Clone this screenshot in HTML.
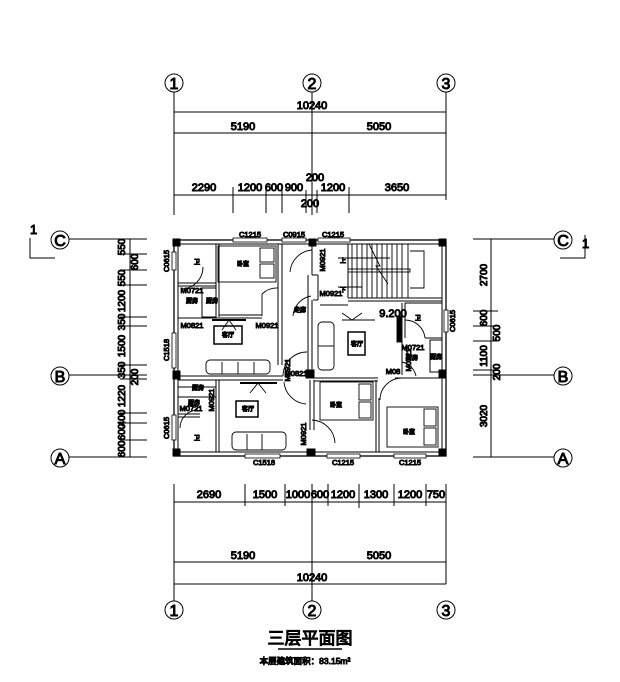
<!DOCTYPE html>
<html><head><meta charset="utf-8"><style>
html,body{margin:0;padding:0;background:#fff}
svg{display:block}
text{font-family:"Liberation Sans","Noto Sans CJK SC",sans-serif;fill:#000}
</style></head><body>
<svg width="620" height="682" viewBox="0 0 620 682" xmlns="http://www.w3.org/2000/svg">
<g stroke="#000" stroke-width="1" fill="none">
<circle cx="174" cy="83" r="9"/><circle cx="312" cy="83" r="9"/><circle cx="446" cy="83" r="9"/>
<line x1="174" y1="92" x2="174" y2="215"/><line x1="312" y1="92" x2="312" y2="215"/><line x1="446" y1="92" x2="446" y2="200"/>
<line x1="174" y1="112" x2="446" y2="112"/><line x1="174" y1="133" x2="446" y2="133"/><line x1="174" y1="195" x2="446" y2="195"/>
<line x1="233" y1="187" x2="233" y2="213"/><line x1="266" y1="190" x2="266" y2="213"/><line x1="282" y1="190" x2="282" y2="213"/>
<line x1="306" y1="190" x2="306" y2="213"/><line x1="317" y1="190" x2="317" y2="213"/><line x1="349" y1="187" x2="349" y2="213"/>
<circle cx="174" cy="610" r="9"/><circle cx="312" cy="610" r="9"/><circle cx="446" cy="610" r="9"/>
<line x1="174" y1="484" x2="174" y2="601"/><line x1="312" y1="484" x2="312" y2="601"/><line x1="446" y1="484" x2="446" y2="584"/>
<line x1="174" y1="502" x2="446" y2="502"/><line x1="174" y1="562" x2="446" y2="562"/><line x1="174" y1="584" x2="446" y2="584"/>
<line x1="245" y1="484" x2="245" y2="506"/><line x1="285" y1="484" x2="285" y2="506"/><line x1="328" y1="484" x2="328" y2="506"/>
<line x1="359" y1="484" x2="359" y2="508"/><line x1="394" y1="484" x2="394" y2="506"/><line x1="426" y1="484" x2="426" y2="506"/>
<circle cx="60" cy="240" r="9"/><circle cx="60" cy="376" r="9"/><circle cx="60" cy="458" r="9"/>
<line x1="69" y1="239" x2="147" y2="239"/><line x1="69" y1="375" x2="147" y2="375"/><line x1="69" y1="457" x2="147" y2="457"/>
<line x1="130" y1="239" x2="130" y2="457"/>
<line x1="120" y1="254" x2="147" y2="254"/><line x1="120" y1="270" x2="147" y2="270"/><line x1="120" y1="285" x2="147" y2="285"/>
<line x1="120" y1="317" x2="147" y2="317"/><line x1="120" y1="326" x2="147" y2="326"/><line x1="120" y1="365" x2="147" y2="365"/>
<line x1="120" y1="379" x2="147" y2="379"/><line x1="120" y1="413" x2="147" y2="413"/><line x1="120" y1="423" x2="147" y2="423"/>
<line x1="120" y1="440" x2="147" y2="440"/>
<polyline points="30,238 30,258 55,258"/>
<circle cx="563" cy="240" r="9"/><circle cx="563" cy="376" r="9"/><circle cx="563" cy="458" r="9"/>
<line x1="473" y1="239" x2="554" y2="239"/><line x1="473" y1="375" x2="554" y2="375"/><line x1="473" y1="457" x2="554" y2="457"/>
<line x1="491" y1="239" x2="491" y2="457"/>
<line x1="473" y1="311" x2="498" y2="311"/><line x1="473" y1="326" x2="498" y2="326"/><line x1="473" y1="341" x2="498" y2="341"/>
<line x1="473" y1="370" x2="498" y2="370"/>
<polyline points="585,235 585,258 560,258"/>
<rect x="174" y="240" width="272" height="216" stroke-width="1.3"/>
<rect x="178" y="244" width="264" height="208"/>
<g stroke-width="1">
<line x1="216" y1="244" x2="216" y2="317"/><line x1="219" y1="244" x2="219" y2="317"/>
<line x1="178" y1="283" x2="216" y2="283"/><line x1="178" y1="286" x2="216" y2="286"/>
<rect x="202" y="288" width="14" height="29"/>
<line x1="219" y1="315" x2="262" y2="315"/><line x1="178" y1="318" x2="262" y2="318"/>
<line x1="278" y1="244" x2="278" y2="365"/><line x1="282" y1="244" x2="282" y2="365"/>
<line x1="308" y1="275" x2="308" y2="372"/><line x1="312" y1="244" x2="312" y2="275"/>
<line x1="312" y1="275" x2="318" y2="275"/><line x1="318" y1="275" x2="318" y2="300"/><line x1="313" y1="300" x2="318" y2="300"/>
<line x1="312" y1="300" x2="312" y2="372"/>
<line x1="178" y1="376" x2="283" y2="376"/><line x1="178" y1="380" x2="283" y2="380"/>
<line x1="216" y1="380" x2="216" y2="452"/><line x1="219" y1="380" x2="219" y2="452"/>
<line x1="178" y1="387" x2="216" y2="387"/><line x1="178" y1="397" x2="216" y2="397"/>
<line x1="178" y1="414" x2="200" y2="414"/><line x1="178" y1="417" x2="200" y2="417"/>
<line x1="310" y1="380" x2="310" y2="430"/><line x1="314" y1="380" x2="314" y2="430"/>
<line x1="314" y1="378" x2="378" y2="378"/><line x1="314" y1="381" x2="378" y2="381"/>
<line x1="376" y1="380" x2="376" y2="452"/><line x1="379" y1="398" x2="379" y2="452"/>
<line x1="395" y1="378" x2="442" y2="378"/>
<line x1="348" y1="244" x2="348" y2="298"/><line x1="348" y1="298" x2="442" y2="298"/><line x1="348" y1="301" x2="442" y2="301"/>
<line x1="320" y1="305" x2="348" y2="305"/>
<line x1="402" y1="303" x2="402" y2="375"/><line x1="405" y1="303" x2="405" y2="338"/>
<line x1="405" y1="303" x2="442" y2="303"/><line x1="425" y1="338" x2="442" y2="338"/>
<rect x="430" y="340" width="12" height="32"/>
</g>
<g stroke-width="0.9">
<line x1="352" y1="244" x2="352" y2="298"/><line x1="357" y1="244" x2="357" y2="298"/><line x1="362" y1="244" x2="362" y2="298"/>
<line x1="367" y1="244" x2="367" y2="298"/><line x1="372" y1="244" x2="372" y2="298"/><line x1="377" y1="244" x2="377" y2="298"/>
<line x1="382" y1="244" x2="382" y2="298"/><line x1="387" y1="244" x2="387" y2="298"/><line x1="392" y1="244" x2="392" y2="298"/>
<line x1="397" y1="244" x2="397" y2="298"/><line x1="402" y1="244" x2="402" y2="298"/><line x1="408" y1="244" x2="408" y2="298"/>
<rect x="348" y="269" width="62" height="3"/>
<polyline points="410,251 424,251 424,288 410,288"/>
<line x1="338" y1="258" x2="390" y2="258"/><line x1="338" y1="287" x2="362" y2="287"/>
<polyline points="369,244 380,266 376,266 388,284"/>
<path d="M203,267 a22,22 0 0 1 -22,22"/>
<path d="M262,316 v-22 a22,22 0 0 1 16,-6"/>
<path d="M283,376 a24,24 0 0 1 24,-24"/>
<path d="M284,382 a24,24 0 0 0 22,22"/>
<path d="M312,250 a24,24 0 0 0 -22,22"/>
<path d="M311,296 a22,22 0 0 0 -18,20"/>
<path d="M312,420 a24,24 0 0 1 23,23"/>
<path d="M380,400 a22,22 0 0 1 22,-22"/>
<path d="M405,320 a20,20 0 0 1 20,18"/>
<path d="M402,362 a18,18 0 0 1 14,14"/>
<path d="M180,428 a18,18 0 0 1 18,-18"/>
<rect x="218" y="246" width="58" height="36"/><rect x="260" y="248" width="14" height="14"/><rect x="260" y="264" width="14" height="14"/>
<rect x="320" y="382" width="53" height="38"/><rect x="359" y="384" width="12" height="16"/><rect x="359" y="402" width="12" height="16"/>
<rect x="387" y="407" width="51" height="40"/><rect x="424" y="409" width="12" height="17"/><rect x="424" y="428" width="12" height="17"/>
<rect x="206" y="360" width="64" height="14" rx="4"/><line x1="222" y1="362" x2="222" y2="374"/><line x1="238" y1="362" x2="238" y2="374"/><line x1="254" y1="362" x2="254" y2="374"/>
<rect x="232" y="432" width="54" height="18" rx="4"/><line x1="247" y1="434" x2="247" y2="450"/><line x1="262" y1="434" x2="262" y2="450"/>
<rect x="318" y="322" width="16" height="48" rx="4"/><line x1="318" y1="346" x2="334" y2="346"/>
<rect x="214" y="326" width="28" height="18" stroke-width="1.5"/>
<rect x="236" y="401" width="22" height="16" stroke-width="1.5"/>
<rect x="348" y="332" width="17" height="23" stroke-width="1.5"/>
<line x1="212" y1="320" x2="246" y2="320" stroke-width="2"/><polyline points="222,330 229,320 236,330"/>
<line x1="240" y1="383" x2="277" y2="383" stroke-width="2"/><polyline points="250,393 258,383 266,393"/>
<rect x="397" y="316" width="4" height="26" fill="#000"/>
<line x1="342" y1="320" x2="375" y2="320"/><polyline points="342,313 352,320 362,313"/>
</g>
<g fill="#000">
<rect x="173" y="239" width="7" height="7"/><rect x="309" y="239" width="7" height="7"/><rect x="439" y="239" width="7" height="7"/>
<rect x="173" y="371" width="7" height="8"/><rect x="306" y="370" width="8" height="8"/><rect x="439" y="370" width="7" height="8"/>
<rect x="173" y="449" width="7" height="7"/><rect x="307" y="449" width="8" height="7"/><rect x="439" y="449" width="7" height="7"/>
</g>
<g fill="#fff" stroke="#000" stroke-width="0.8">
<rect x="233" y="238" width="34" height="4"/><rect x="282" y="238" width="24" height="4"/><rect x="318" y="238" width="32" height="4"/>
<rect x="245" y="454" width="35" height="4"/><rect x="327" y="454" width="33" height="4"/><rect x="394" y="454" width="32" height="4"/>
<rect x="172" y="252" width="4" height="18"/><rect x="172" y="333" width="4" height="35"/><rect x="172" y="415" width="4" height="25"/>
<rect x="444" y="310" width="4" height="22"/>
</g>
<g font-size="16" text-anchor="middle">
<text x="174" y="89">1</text><text x="312" y="89">2</text><text x="446" y="89">3</text>
<text x="174" y="616">1</text><text x="312" y="616">2</text><text x="446" y="616">3</text>
<text x="60" y="246" font-family="Liberation Serif">C</text><text x="60" y="382" font-family="Liberation Serif">B</text><text x="60" y="464" font-family="Liberation Serif">A</text>
<text x="563" y="246" font-family="Liberation Serif">C</text><text x="563" y="382" font-family="Liberation Serif">B</text><text x="563" y="464" font-family="Liberation Serif">A</text>
</g>
<text x="30" y="234" font-size="13" font-family="Liberation Serif">1</text>
<text x="582" y="248" font-size="13" font-family="Liberation Serif">1</text>
<g font-size="11" text-anchor="middle">
<text x="312" y="109">10240</text><text x="243" y="130">5190</text><text x="379" y="130">5050</text>
<text x="204" y="191">2290</text><text x="250" y="191">1200</text><text x="274" y="191">600</text><text x="294" y="191">900</text>
<text x="315" y="181">200</text><text x="310" y="207">200</text><text x="333" y="191">1200</text><text x="397" y="191">3650</text>
<text x="209" y="498">2690</text><text x="265" y="498">1500</text><text x="298" y="498">1000</text><text x="320" y="498">600</text>
<text x="343" y="498">1200</text><text x="376" y="498">1300</text><text x="410" y="498">1200</text><text x="436" y="498">750</text>
<text x="243" y="559">5190</text><text x="379" y="559">5050</text><text x="312" y="581">10240</text>
</g>
<g font-size="10" text-anchor="middle">
<text transform="translate(125,247) rotate(-90)">550</text>
<text transform="translate(138,262) rotate(-90)">600</text>
<text transform="translate(125,278) rotate(-90)">550</text>
<text transform="translate(125,301) rotate(-90)">1200</text>
<text transform="translate(125,322) rotate(-90)">350</text>
<text transform="translate(125,346) rotate(-90)">1500</text>
<text transform="translate(125,370) rotate(-90)">350</text>
<text transform="translate(138,377) rotate(-90)">200</text>
<text transform="translate(125,396) rotate(-90)">1220</text>
<text transform="translate(125,418) rotate(-90)">400</text>
<text transform="translate(125,432) rotate(-90)">600</text>
<text transform="translate(125,449) rotate(-90)">600</text>
<text transform="translate(487,275) rotate(-90)">2700</text>
<text transform="translate(487,318) rotate(-90)">600</text>
<text transform="translate(500,333) rotate(-90)">500</text>
<text transform="translate(487,356) rotate(-90)">1100</text>
<text transform="translate(500,372) rotate(-90)">200</text>
<text transform="translate(487,416) rotate(-90)">3020</text>
</g>
<g font-size="7.5" text-anchor="middle">
<text x="250" y="237">C1215</text><text x="294" y="237">C0915</text><text x="333" y="237">C1215</text>
<text x="264" y="465">C1518</text><text x="343" y="465">C1215</text><text x="410" y="465">C1215</text>
<text transform="translate(169,261) rotate(-90)">C0615</text>
<text transform="translate(169,350) rotate(-90)">C1518</text>
<text transform="translate(169,428) rotate(-90)">C0615</text>
<text transform="translate(455,321) rotate(-90)">C0615</text>
<text x="192" y="293">M0721</text><text x="192" y="328">M0821</text><text x="267" y="328">M0921</text>
<text x="331" y="296">M0921</text><text transform="translate(325,260) rotate(-90)">M0921</text>
<text x="413" y="350">M0721</text><text x="393" y="374">M08</text><text transform="translate(411,360) rotate(-90)">M0721</text>
<text x="296" y="376">M0821</text><text transform="translate(290,370) rotate(-90)">M0921</text>
<text x="191" y="411">M0721</text><text transform="translate(214,400) rotate(-90)">M0921</text>
<text transform="translate(306,434) rotate(-90)">M0921</text>
<text x="393" y="317" font-size="11">9.200</text>
</g>
<g font-size="6" text-anchor="middle">
<text x="243" y="266">卧室</text><text x="336" y="407">卧室</text><text x="409" y="434">卧室</text>
<text x="300" y="312">走廊</text><text x="197" y="264">卫</text><text x="212" y="303">厨房</text><text x="192" y="303">厨房</text>
<text x="228" y="337">客厅</text><text x="248" y="411">客厅</text><text x="357" y="346">客厅</text>
<text x="198" y="390">厨房</text><text x="194" y="405">厨房</text><text x="197" y="440">卫</text>
<text x="418" y="320">卫</text><text x="412" y="360">厨房</text><text x="436" y="359">厨房</text>
<text x="343" y="263">上</text><text x="343" y="292">下</text>
</g>
<text x="310" y="644" font-size="17" text-anchor="middle">三层平面图</text>
<line x1="278" y1="649" x2="342" y2="649" stroke="#000" stroke-width="1.5"/>
<text x="305" y="664" font-size="8.5" text-anchor="middle">本层建筑面积：83.15m²</text>
</svg>
</body></html>
